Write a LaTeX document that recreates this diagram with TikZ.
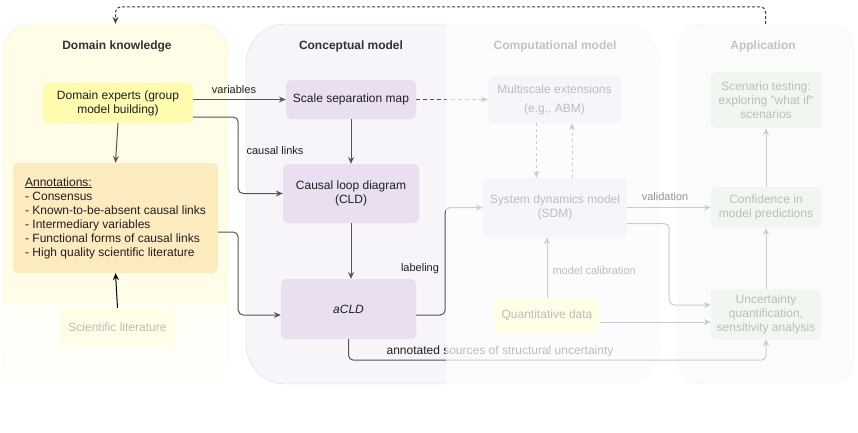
\documentclass[tikz,border=0pt]{standalone}
\usepackage{fontspec}
\setmainfont{Liberation Sans}
\usetikzlibrary{arrows.meta,calc}
\definecolor{lc}{HTML}{555555}
\definecolor{dkfill}{HTML}{FFFCE8}
\definecolor{dkdraw}{HTML}{F2EDD5}
\definecolor{cmfill}{HTML}{F7F4FA}
\definecolor{cmdraw}{HTML}{D8DEF2}
\definecolor{apfill}{HTML}{F3F5EF}
\definecolor{apdraw}{HTML}{E0E4DC}
\definecolor{yel}{HTML}{FFFCB0}
\definecolor{peach}{HTML}{FDEBC0}
\definecolor{purp}{HTML}{EADFF1}
\definecolor{grn}{HTML}{CFE6CE}
\definecolor{ttlc}{HTML}{333333}
\begin{document}
\begin{tikzpicture}[x=1pt,y=-1pt,
  panel/.style={shape=rectangle, inner sep=0pt},
  box/.style={shape=rectangle, rounded corners=5pt, inner sep=0pt, align=center, font=\fontsize{12}{14}\selectfont, text=black!88},
  ttl/.style={font=\bfseries\fontsize{12}{14}\selectfont, text=ttlc},
  elab/.style={font=\fontsize{11}{13}\selectfont, text=black!88},
  con/.style={draw=lc, line width=1pt, rounded corners=5pt, -{Stealth[length=7pt,width=6pt,inset=2.5pt]}},
  dcon/.style={con, dash pattern=on 4pt off 3pt},
]
\useasboundingbox (0,0) rectangle (858,432);

% panels
\node[panel, fill=dkfill, draw=dkdraw, rounded corners=28pt, minimum width=225pt, minimum height=360pt] (pdk) at (115.5,204) {};
\node[panel, fill=cmfill, draw=cmdraw, rounded corners=40pt, minimum width=414pt, minimum height=360pt] (pcm) at (453,204) {};
\node[panel, fill=apfill, draw=apdraw, rounded corners=25pt, minimum width=177pt, minimum height=360pt] (pap) at (765.5,204) {};

% titles
\node[ttl] (t1) at (117,46) {Domain knowledge};
\node[ttl] (t2) at (351,46) {Conceptual model};
\node[ttl] (t3) at (555,46) {Computational model};
\node[ttl] (t4) at (763,46) {Application};

% nodes
\node[box, fill=yel, minimum width=150pt, minimum height=40pt] (dexp) at (118,103) {Domain experts (group\\model building)};
\node[box, fill=peach, align=left, minimum width=205pt, minimum height=110pt] (annot) at (115.5,218)
  {\underline{Annotations:}\\- Consensus\\- Known-to-be-absent causal links\\- Intermediary variables\\- Functional forms of causal links\\- High quality scientific literature};
\node[box, fill=yel, minimum width=115pt, minimum height=39pt] (scilit) at (117.5,327.5) {Scientific literature};

\node[box, fill=purp, minimum width=130pt, minimum height=39pt] (ssm) at (351,99.5) {Scale separation map};
\node[box, fill=purp, minimum width=136pt, minimum height=59pt] (cld) at (351,193.5) {Causal loop diagram\\(CLD)};
\node[box, fill=purp, minimum width=135pt, minimum height=60pt] (acld) at (348.5,309) {\itshape aCLD};

\node[box, fill=purp, minimum width=133pt, minimum height=47pt, font=\fontsize{12}{19}\selectfont] (multi) at (554.5,99.5) {Multiscale extensions\\(e.g., ABM)};
\node[box, fill=purp, minimum width=144pt, minimum height=59pt] (sdm) at (555,207.5) {System dynamics model\\(SDM)};
\node[box, fill=yel, minimum width=106pt, minimum height=35pt] (qdata) at (547,315.5) {Quantitative data};

\node[box, fill=grn, minimum width=110pt, minimum height=56pt] (scen) at (766,100) {Scenario testing:\\exploring "what if"\\scenarios};
\node[box, fill=grn, minimum width=110pt, minimum height=41pt] (conf) at (766,207.5) {Confidence in\\model predictions};
\node[box, fill=grn, minimum width=110pt, minimum height=50pt] (unc) at (766,314) {Uncertainty\\quantification,\\sensitivity analysis};

% connectors
\draw[con] (dexp.east |- ssm.west) -- (ssm.west);
\node[elab] (lvar) at (234,90) {variables};
\draw[con] ([yshift=-14pt]dexp.east) -- ++(45,0) |- (cld.west);
\node[elab] (lcl) at (275,151) {causal links};
\draw[con] (dexp.south) -- (annot.north);
\draw[con] (ssm.south) -- (cld.north);
\draw[con] (cld.south) -- (cld.south |- acld.north);
\draw[con] ([yshift=-14pt]annot.east) -- ++(20,0) |- ([yshift=-6pt]acld.west);
\draw[con] ([yshift=-6pt]acld.east) -- ++(29,0) |- (sdm.west);
\node[elab] (llab) at (420,269) {labeling};
\draw[con] (acld.south) -- ++(0,21) -| (unc.south);
\node[elab, font=\fontsize{12}{14}\selectfont] (lann) at (500,351) {annotated sources of structural uncertainty};
\draw[dcon] (ssm.east) -- (multi.west);
\draw[dcon, dash pattern=on 3pt off 3pt] ([xshift=-18pt]multi.south) -- ([xshift=-18pt]multi.south |- sdm.north);
\draw[dcon, dash pattern=on 3pt off 3pt] ([xshift=17pt]sdm.north) -- ([xshift=17pt]sdm.north |- multi.south);
\draw[con] (qdata.north) -- (qdata.north |- sdm.south);
\node[elab, anchor=west] (lcal) at (549,271) {model calibration};
\draw[con] (sdm.east) -- (conf.west);
\draw[con] ([yshift=-16pt]sdm.east) -- ++(42,0) |- ([yshift=9pt]unc.west);
\draw[con] ([yshift=-6.5pt]qdata.east) -- ([yshift=-6.5pt]qdata.east -| unc.west);
\draw[con] (unc.north) -- (conf.south);
\draw[con] (conf.north) -- (scen.south);

% overlays (fading)
\fill[white, opacity=0.7] (446,18) rectangle (858,392);
\fill[white, opacity=0.7] (0,303) rectangle (232,392);

% after overlay
\node[elab, text=black!42] (lval) at (665,197) {validation};
\draw[con, draw=black] (scilit.north) -- (annot.south);
\draw[con, draw=black!75, dash pattern=on 3pt off 2pt] (pap.north) -- ++(0,-17) -| (pdk.north);
\end{tikzpicture}
\end{document}
